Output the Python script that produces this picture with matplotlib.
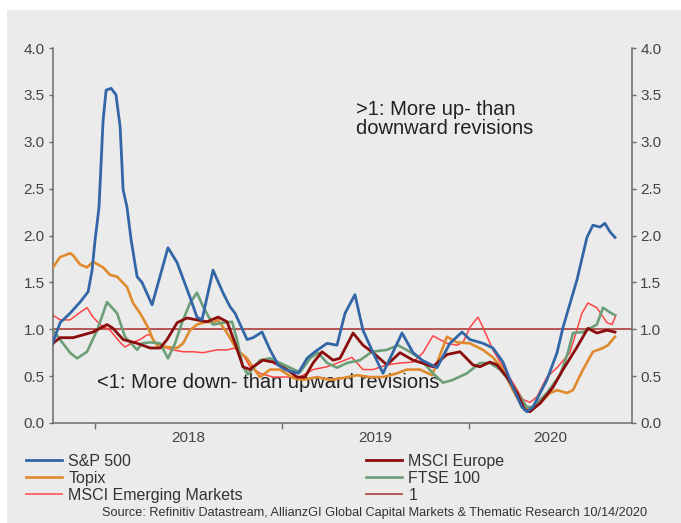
import numpy as np
import matplotlib
matplotlib.use("Agg")
import matplotlib.pyplot as plt
from matplotlib.patches import Rectangle

plt.rcParams['font.family'] = ['Liberation Sans', 'DejaVu Sans']

# Dados (datas em anos decimais, valores = razão de revisões)
sp500_t = [2017.775, 2017.813, 2017.866, 2017.920, 2017.963, 2017.984, 2018.000, 2018.021, 2018.043, 2018.059,
           2018.086, 2018.112, 2018.134, 2018.150, 2018.171, 2018.193, 2018.225, 2018.251, 2018.305, 2018.390,
           2018.439, 2018.508, 2018.545, 2018.572, 2018.631, 2018.684, 2018.722, 2018.749, 2018.813, 2018.845,
           2018.893, 2018.936, 2018.979, 2019.016, 2019.086, 2019.134, 2019.176, 2019.241, 2019.294, 2019.337,
           2019.390, 2019.433, 2019.487, 2019.540, 2019.642, 2019.701, 2019.749, 2019.829, 2019.898, 2019.963,
           2020.005, 2020.075, 2020.128, 2020.182, 2020.235, 2020.283, 2020.310, 2020.342, 2020.417, 2020.471,
           2020.503, 2020.578, 2020.631, 2020.663, 2020.701, 2020.727, 2020.754, 2020.781]
sp500_v = [0.86, 1.07, 1.17, 1.29, 1.40, 1.63, 1.95, 2.30, 3.23, 3.55,
           3.57, 3.50, 3.16, 2.49, 2.30, 1.95, 1.56, 1.50, 1.26, 1.87,
           1.71, 1.34, 1.13, 1.10, 1.63, 1.39, 1.24, 1.17, 0.89, 0.91,
           0.97, 0.78, 0.62, 0.57, 0.53, 0.69, 0.76, 0.85, 0.83, 1.17,
           1.37, 0.99, 0.75, 0.53, 0.96, 0.75, 0.67, 0.59, 0.85, 0.97,
           0.89, 0.85, 0.80, 0.65, 0.38, 0.17, 0.12, 0.17, 0.46, 0.75,
           1.02, 1.53, 1.98, 2.11, 2.09, 2.13, 2.04, 1.98]

topix_t = [2017.775, 2017.813, 2017.866, 2017.882, 2017.920, 2017.957, 2017.989, 2018.043, 2018.080, 2018.118,
           2018.171, 2018.203, 2018.241, 2018.283, 2018.310, 2018.332, 2018.385, 2018.439, 2018.471, 2018.508,
           2018.545, 2018.599, 2018.631, 2018.658, 2018.706, 2018.759, 2018.813, 2018.829, 2018.882, 2018.936,
           2018.989, 2019.059, 2019.112, 2019.187, 2019.257, 2019.326, 2019.401, 2019.471, 2019.540, 2019.615,
           2019.668, 2019.738, 2019.802, 2019.829, 2019.882, 2019.936, 2020.005, 2020.075, 2020.128, 2020.182,
           2020.235, 2020.289, 2020.326, 2020.380, 2020.433, 2020.471, 2020.524, 2020.556, 2020.610, 2020.663,
           2020.717, 2020.743, 2020.781]
topix_v = [1.66, 1.77, 1.81, 1.79, 1.69, 1.66, 1.72, 1.66, 1.58, 1.56,
           1.45, 1.28, 1.17, 1.02, 0.89, 0.83, 0.81, 0.80, 0.85, 0.99,
           1.05, 1.08, 1.07, 1.10, 0.96, 0.78, 0.69, 0.64, 0.49, 0.57,
           0.57, 0.48, 0.46, 0.49, 0.46, 0.48, 0.51, 0.49, 0.49, 0.53,
           0.57, 0.57, 0.51, 0.64, 0.92, 0.86, 0.85, 0.78, 0.70, 0.57,
           0.35, 0.16, 0.14, 0.21, 0.32, 0.35, 0.32, 0.35, 0.57, 0.76,
           0.80, 0.83, 0.92]

europe_t = [2017.775, 2017.813, 2017.882, 2017.936, 2017.989, 2018.064, 2018.096, 2018.150, 2018.225, 2018.294,
            2018.348, 2018.385, 2018.439, 2018.492, 2018.545, 2018.599, 2018.658, 2018.706, 2018.749, 2018.791,
            2018.829, 2018.845, 2018.898, 2018.952, 2019.027, 2019.080, 2019.123, 2019.166, 2019.214, 2019.273,
            2019.310, 2019.380, 2019.433, 2019.487, 2019.561, 2019.631, 2019.701, 2019.749, 2019.807, 2019.882,
            2019.952, 2020.021, 2020.059, 2020.112, 2020.150, 2020.203, 2020.257, 2020.299, 2020.326, 2020.380,
            2020.449, 2020.503, 2020.578, 2020.636, 2020.684, 2020.738, 2020.781]
europe_v = [0.85, 0.91, 0.91, 0.94, 0.97, 1.05, 1.01, 0.89, 0.85, 0.80,
            0.80, 0.89, 1.07, 1.12, 1.10, 1.08, 1.13, 1.08, 0.85, 0.60,
            0.57, 0.60, 0.67, 0.65, 0.57, 0.49, 0.49, 0.64, 0.76, 0.67,
            0.69, 0.96, 0.83, 0.75, 0.62, 0.75, 0.67, 0.64, 0.60, 0.73,
            0.76, 0.62, 0.60, 0.65, 0.62, 0.49, 0.32, 0.14, 0.12, 0.21,
            0.38, 0.57, 0.81, 1.01, 0.96, 0.99, 0.97]

ftse_t = [2017.775, 2017.813, 2017.866, 2017.904, 2017.957, 2018.011, 2018.064, 2018.118, 2018.160, 2018.225,
          2018.251, 2018.294, 2018.348, 2018.390, 2018.428, 2018.465, 2018.508, 2018.545, 2018.578, 2018.631,
          2018.684, 2018.733, 2018.759, 2018.791, 2018.818, 2018.882, 2018.936, 2018.989, 2019.043, 2019.096,
          2019.150, 2019.193, 2019.241, 2019.294, 2019.348, 2019.417, 2019.481, 2019.561, 2019.620, 2019.684,
          2019.738, 2019.807, 2019.861, 2019.914, 2019.989, 2020.059, 2020.112, 2020.166, 2020.219, 2020.273,
          2020.310, 2020.342, 2020.417, 2020.487, 2020.529, 2020.556, 2020.610, 2020.684, 2020.717, 2020.754,
          2020.781]
ftse_v = [0.99, 0.89, 0.75, 0.69, 0.76, 0.99, 1.29, 1.17, 0.92, 0.78,
          0.85, 0.86, 0.85, 0.69, 0.85, 1.07, 1.28, 1.39, 1.24, 1.05,
          1.07, 1.08, 0.89, 0.60, 0.52, 0.67, 0.69, 0.64, 0.59, 0.54,
          0.69, 0.75, 0.64, 0.59, 0.64, 0.67, 0.76, 0.78, 0.83, 0.76,
          0.69, 0.53, 0.43, 0.46, 0.53, 0.64, 0.64, 0.57, 0.44, 0.28,
          0.17, 0.17, 0.32, 0.51, 0.75, 0.96, 0.97, 1.05, 1.23, 1.18,
          1.15]

em_t = [2017.775, 2017.813, 2017.866, 2017.920, 2017.957, 2017.989, 2018.027, 2018.080, 2018.134, 2018.160,
        2018.203, 2018.241, 2018.278, 2018.294, 2018.332, 2018.364, 2018.417, 2018.471, 2018.524, 2018.578,
        2018.652, 2018.706, 2018.749, 2018.791, 2018.829, 2018.882, 2018.952, 2019.027, 2019.096, 2019.166,
        2019.241, 2019.310, 2019.374, 2019.433, 2019.487, 2019.561, 2019.631, 2019.701, 2019.754, 2019.807,
        2019.882, 2019.936, 2019.968, 2020.005, 2020.048, 2020.075, 2020.128, 2020.182, 2020.235, 2020.289,
        2020.326, 2020.364, 2020.417, 2020.471, 2020.540, 2020.604, 2020.636, 2020.684, 2020.738, 2020.765,
        2020.786]
em_v = [1.15, 1.10, 1.10, 1.18, 1.23, 1.13, 1.05, 0.99, 0.86, 0.81,
        0.86, 0.89, 0.94, 0.94, 0.83, 0.81, 0.78, 0.76, 0.76, 0.75,
        0.78, 0.78, 0.80, 0.73, 0.60, 0.53, 0.49, 0.49, 0.49, 0.57,
        0.60, 0.65, 0.70, 0.57, 0.57, 0.62, 0.64, 0.65, 0.75, 0.93,
        0.85, 0.83, 0.86, 1.02, 1.13, 1.02, 0.78, 0.60, 0.43, 0.25,
        0.22, 0.28, 0.49, 0.59, 0.75, 1.17, 1.28, 1.23, 1.07, 1.05,
        1.15]

x_inicio, x_fim = 2017.775, 2020.872
anos = [2018, 2019, 2020]
y_ticks = np.arange(0, 4.01, 0.5)

W, H = 681, 523
fig = plt.figure(figsize=(W / 100, H / 100), dpi=100)
# fundo cinza do quadro
fig.add_artist(Rectangle((7 / W, 0), 1 - 7 / W, 1 - 10 / H, transform=fig.transFigure,
                         facecolor='#ebebeb', edgecolor='none', zorder=-10))

ax = fig.add_axes([53 / W, 100 / H, 579 / W, 375 / H])
ax.set_facecolor('none')

ax.axhline(1, color='#b04a4a', lw=1.3, zorder=1)
ax.plot(em_t, em_v, color='#ff4545', lw=1.1, solid_joinstyle='round', zorder=2)
ax.plot(topix_t, topix_v, color='#e08a2e', lw=1.9, solid_joinstyle='round', zorder=3)
ax.plot(ftse_t, ftse_v, color='#6c9f78', lw=1.9, solid_joinstyle='round', zorder=4)
ax.plot(europe_t, europe_v, color='#8b0c0c', lw=2.0, solid_joinstyle='round', zorder=5)
ax.plot(sp500_t, sp500_v, color='#3266a6', lw=2.0, solid_joinstyle='round', zorder=6)

ax.set_xlim(x_inicio, x_fim)
ax.set_ylim(0, 4)

for s in ['left', 'right', 'bottom']:
    ax.spines[s].set_color('#6a6a6a')
    ax.spines[s].set_linewidth(1.1)
ax.spines['top'].set_visible(False)

ax.set_yticks(y_ticks)
ax.set_yticklabels(['%.1f' % v for v in y_ticks])
ax.tick_params(axis='y', which='both', direction='out', length=3, width=1, color='#6a6a6a',
               left=True, right=True, labelleft=True, labelright=True,
               labelsize=11, labelcolor='#444444', pad=3)

ax.set_xticks(anos)
ax.set_xticklabels([])
meios = [a + 0.5 for a in anos[:-1]] + [(anos[-1] + x_fim) / 2]
ax.set_xticks(meios, minor=True)
ax.set_xticklabels([str(a) for a in anos], minor=True)
ax.tick_params(axis='x', which='major', direction='out', length=4, width=1, color='#6a6a6a')
ax.tick_params(axis='x', which='minor', length=0, labelsize=11, labelcolor='#444444', pad=6)

ax.text((356 - 53) / 579, (423 - 100) / 375, '>1: More up- than\ndownward revisions',
        transform=ax.transAxes, ha='left', va='top', fontsize=14.5, linespacing=1.0, color='#222222')
ax.text((97 - 53) / 579, (423 - 382) / 375, '<1: More down- than upward revisions',
        transform=ax.transAxes, ha='left', va='center', fontsize=14.5, color='#222222', zorder=0.5)

linhas = [plt.Line2D([], [], color='#3266a6', lw=2.0),
          plt.Line2D([], [], color='#e08a2e', lw=1.9),
          plt.Line2D([], [], color='#ff4545', lw=1.1),
          plt.Line2D([], [], color='#8b0c0c', lw=2.0),
          plt.Line2D([], [], color='#6c9f78', lw=1.9),
          plt.Line2D([], [], color='#b04a4a', lw=1.3)]
nomes = ['S&P 500', 'Topix', 'MSCI Emerging Markets', 'MSCI Europe', 'FTSE 100', '1']
leg = fig.legend(linhas, nomes, ncol=2, loc='upper left', bbox_to_anchor=(26 / W, (H - 454) / H),
                 frameon=False, fontsize=11.5, borderpad=0, borderaxespad=0, handlelength=2.25,
                 handletextpad=0.4, labelspacing=0.12, columnspacing=7.7)
for t in leg.get_texts():
    t.set_color('#333333')

fig.text(375 / W, (H - 513) / H,
         'Source: Refinitiv Datastream, AllianzGI Global Capital Markets & Thematic Research 10/14/2020',
         ha='center', va='center', fontsize=9.2, color='#333333')

fig.savefig('out.png', dpi=100)
